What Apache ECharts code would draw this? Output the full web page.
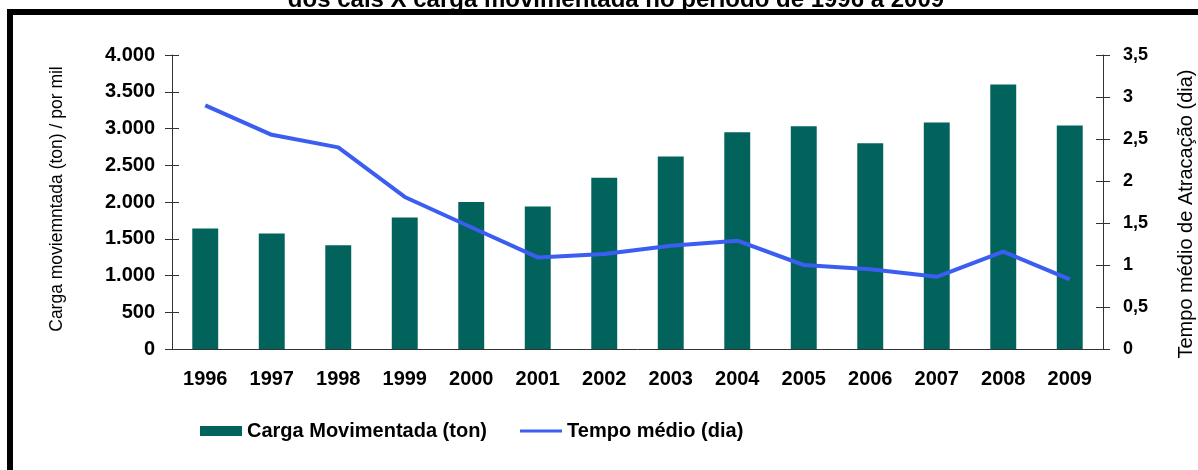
<!DOCTYPE html>
<html>
<head>
<meta charset="utf-8">
<script src="https://cdn.jsdelivr.net/npm/echarts@6/dist/echarts.min.js"></script>
<style>
  html, body { margin: 0; padding: 0; background: #fff; }
  #chart { width: 1198px; height: 470px; }
</style>
</head>
<body>
<div id="chart"></div>
<script>
  // anos
  const years = ['1996', '1997', '1998', '1999', '2000', '2001', '2002', '2003', '2004', '2005', '2006', '2007', '2008', '2009'];
  // carga movimentada (ton) / por mil
  const carga = [1640, 1570, 1410, 1790, 2000, 1940, 2330, 2620, 2950, 3030, 2800, 3080, 3600, 3040];
  // tempo médio de atracação (dia)
  const tempo = [2.9, 2.55, 2.4, 1.81, 1.45, 1.09, 1.13, 1.23, 1.29, 1.0, 0.95, 0.86, 1.16, 0.83];

  const font = 'Liberation Sans, Arial, sans-serif';
  const axisColor = '#333';

  let chart = echarts.init(document.getElementById('chart'));
  chart.setOption({
    animation: false,
    grid: {left: 172, right: 95, top: 55, bottom: 121, outerBoundsMode: 'none'},
    graphic: [
      {
        type: 'text', z: 1,
        style: {
          x: 616, y: 12, text: 'dos cais X carga movimentada no período de 1996 a 2009',
          textAlign: 'center', textVerticalAlign: 'bottom',
          font: 'bold 24px Liberation Sans, Arial, sans-serif', fill: '#000'
        }
      },
      {type: 'rect', z: 10, shape: {x: 7, y: 9, width: 1191, height: 6}, style: {fill: '#000'}},
      {type: 'rect', z: 10, shape: {x: 7, y: 9, width: 6, height: 461}, style: {fill: '#000'}}
    ],
    legend: {
      left: 195,
      top: 416,
      itemWidth: 42,
      itemHeight: 10,
      itemGap: 33,
      textStyle: {fontFamily: font, fontSize: 20, fontWeight: 'bold', color: '#000'},
      data: [
        {name: 'Carga Movimentada (ton)', icon: 'rect'},
        // faixa fina centrada numa caixa 42x10
        {name: 'Tempo médio (dia)', icon: 'path://M0,0M0,10M0,3.5H42V6.5H0Z'}
      ]
    },
    xAxis: [
      {
        type: 'category',
        data: years,
        position: 'bottom',
        axisLine: {lineStyle: {color: axisColor, width: 1}},
        axisTick: {length: 6, lineStyle: {color: axisColor}},
        axisLabel: {margin: 20, fontFamily: font, fontSize: 20, fontWeight: 'bold', color: '#000'}
      },
      {
        type: 'category',
        data: years,
        position: 'bottom',
        axisLine: {show: false},
        axisTick: {inside: true, length: 6, lineStyle: {color: axisColor}},
        axisLabel: {show: false}
      }
    ],
    yAxis: [
      {
        type: 'value',
        position: 'left',
        min: 0, max: 4000, interval: 500,
        name: 'Carga moviemntada (ton) / por mil',
        nameLocation: 'middle',
        nameRotate: 90,
        nameGap: 106,
        nameTextStyle: {fontFamily: font, fontSize: 17.5, color: '#000', padding: [0, 0, 0, 6]},
        splitLine: {show: false},
        axisLine: {show: true, lineStyle: {color: axisColor}},
        axisTick: {show: true, length: 7, lineStyle: {color: axisColor}},
        axisLabel: {
          margin: 17, fontFamily: font, fontSize: 20, fontWeight: 'bold', color: '#000',
          formatter: v => String(v).replace(/\B(?=(\d{3})+(?!\d))/g, '.')
        }
      },
      {
        type: 'value',
        position: 'right',
        min: 0, max: 3.5, interval: 0.5,
        name: 'Tempo médio de Atracação (dia)',
        nameLocation: 'middle',
        nameRotate: 90,
        nameGap: 73,
        nameTextStyle: {fontFamily: font, fontSize: 20, color: '#000', padding: [0, 24, 0, 0]},
        splitLine: {show: false},
        axisLine: {show: true, lineStyle: {color: axisColor}},
        axisTick: {show: true, length: 7, lineStyle: {color: axisColor}},
        axisLabel: {
          margin: 20, fontFamily: font, fontSize: 18, fontWeight: 'bold', color: '#000',
          formatter: v => String(v).replace('.', ',')
        }
      },
      {
        type: 'value', position: 'left', min: 0, max: 4000, interval: 500,
        splitLine: {show: false}, axisLine: {show: false}, axisLabel: {show: false},
        axisTick: {show: true, inside: true, length: 7, lineStyle: {color: axisColor}}
      },
      {
        type: 'value', position: 'right', min: 0, max: 3.5, interval: 0.5,
        splitLine: {show: false}, axisLine: {show: false}, axisLabel: {show: false},
        axisTick: {show: true, inside: true, length: 7, lineStyle: {color: axisColor}}
      }
    ],
    series: [
      {
        name: 'Carga Movimentada (ton)',
        type: 'bar',
        yAxisIndex: 0,
        barWidth: '39%',
        itemStyle: {color: '#02635d'},
        data: carga
      },
      {
        name: 'Tempo médio (dia)',
        type: 'line',
        yAxisIndex: 1,
        symbol: 'none',
        lineStyle: {color: '#3b5ef0', width: 4},
        itemStyle: {color: '#3b5ef0'},
        data: tempo
      }
    ]
  });
</script>
</body>
</html>
